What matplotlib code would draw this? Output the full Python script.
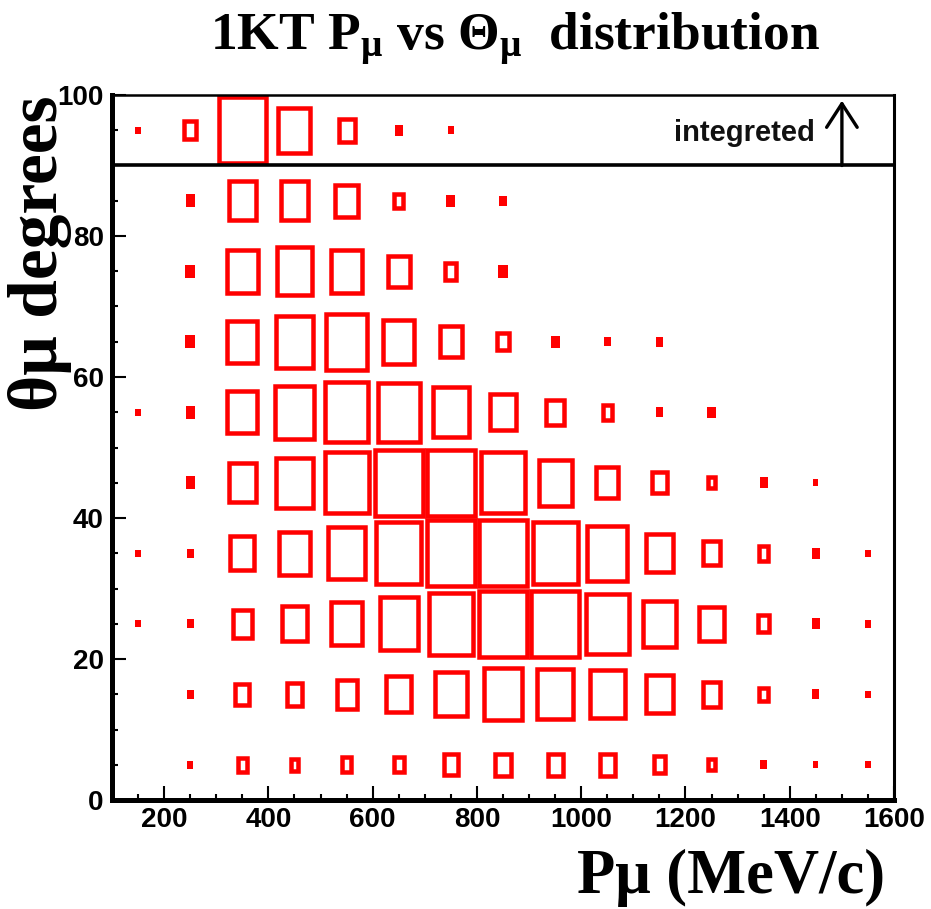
import numpy as np
import matplotlib
matplotlib.use("Agg")
import matplotlib.pyplot as plt
from matplotlib.patches import Rectangle

# bins: P mu from 100 to 1600 (step 100), theta mu from 0 to 100 (step 10)
p_centers = [150, 250, 350, 450, 550, 650, 750, 850, 950, 1050, 1150, 1250, 1350, 1450, 1550]
theta_centers = [5, 15, 25, 35, 45, 55, 65, 75, 85, 95]

# relative bin content (percent of the largest bin), one list per theta bin
row_5 = [0, 12, 26, 23, 27, 28, 36, 38, 37, 38, 31, 22, 13, 10, 10]
row_15 = [0, 13, 36, 39, 47, 57, 69, 80, 77, 75, 60, 42, 25, 14, 10]
row_25 = [10, 13, 46, 56, 67, 82, 94, 100, 100, 92, 72, 55, 30, 16, 12]
row_35 = [10, 13, 55, 68, 80, 95, 100, 100, 95, 85, 60, 41, 27, 15, 10]
row_45 = [0, 18, 61, 78, 93, 100, 100, 93, 72, 51, 36, 22, 15, 10, 0]
row_55 = [10, 18, 66, 82, 91, 90, 78, 58, 42, 27, 14, 16, 0, 0, 0]
row_65 = [0, 19, 66, 80, 86, 69, 50, 31, 17, 13, 14, 0, 0, 0, 0]
row_75 = [0, 19, 68, 74, 68, 50, 30, 19, 0, 0, 0, 0, 0, 0, 0]
row_85 = [0, 18, 61, 62, 52, 26, 17, 14, 0, 0, 0, 0, 0, 0, 0]
row_integrated = [10, 32, 100, 70, 39, 16, 11, 0, 0, 0, 0, 0, 0, 0, 0]

content = np.array([row_5, row_15, row_25, row_35, row_45, row_55,
                    row_65, row_75, row_85, row_integrated])

x_ticks = [200, 400, 600, 800, 1000, 1200, 1400, 1600]
y_ticks = [0, 20, 40, 60, 80, 100]

plt.rcParams['mathtext.fontset'] = 'custom'
plt.rcParams['mathtext.rm'] = 'Liberation Serif:bold'
plt.rcParams['mathtext.it'] = 'Liberation Serif:bold'
plt.rcParams['mathtext.bf'] = 'Liberation Serif:bold'

fig = plt.figure(figsize=(9.31, 9.09), dpi=100)
ax = fig.add_axes([0.1203, 0.1199, 0.840, 0.7756])
ax.set_xlim(100, 1600)
ax.set_ylim(0, 100)

# box outline width, and how much of it to take off so the outer edge matches
lw_px = 4.5
px_x = ax.bbox.width / 1500.0
px_y = ax.bbox.height / 100.0
bin_w = 100
bin_h = 10

for i, th in enumerate(theta_centers):
    for j, p in enumerate(p_centers):
        c = content[i, j]
        if c <= 0:
            continue
        ow = c / 100.0 * bin_w
        oh = c / 100.0 * bin_h
        if ow * px_x < 2.4 * lw_px:
            # tiny box: the outline fills it completely
            ax.add_patch(Rectangle((p - ow / 2, th - oh / 2), ow, oh,
                                   facecolor='#ff0000', edgecolor='none'))
            continue
        w = ow - lw_px / px_x
        h = oh - lw_px / px_y
        ax.add_patch(Rectangle((p - w / 2, th - h / 2), w, h, fill=False,
                               edgecolor='#ff0000', linewidth=lw_px * 0.72,
                               joinstyle='miter'))

# integrated row separator and arrow
ax.axhline(90, color='black', lw=2.6)
ax.annotate('', xy=(1500, 99.2), xytext=(1500, 90),
            arrowprops=dict(arrowstyle='->,head_length=0.85,head_width=0.55',
                            lw=2.4, color='black', shrinkA=0, shrinkB=0,
                            mutation_scale=20))
ax.text(1448, 94.6, 'integreted', ha='right', va='center',
        family='Liberation Sans', weight='bold', fontsize=21, color='#111111')

ax.set_xticks(x_ticks)
ax.set_yticks(y_ticks)
ax.set_xticks(np.arange(150, 1600, 50), minor=True)
ax.set_yticks(np.arange(5, 100, 5), minor=True)
ax.tick_params(which='major', direction='in', length=10, width=1.5,
               top=False, right=False, labelsize=20)
ax.tick_params(which='minor', direction='in', length=4.5, width=1.5,
               top=False, right=False)
ax.tick_params(axis='y', pad=6)
ax.tick_params(axis='x', pad=5)
for lab in ax.get_xticklabels() + ax.get_yticklabels():
    lab.set_family('Liberation Sans')
    lab.set_weight('bold')

ax.spines['left'].set_linewidth(3.6)
ax.spines['bottom'].set_linewidth(3.6)
ax.spines['top'].set_linewidth(1.8)
ax.spines['right'].set_linewidth(2.2)

fig.text(0.553, 0.945, r'1KT P$_{\mu}$ vs $\Theta_{\mu}$  distribution',
         ha='center', va='baseline', family='Liberation Serif',
         weight='bold', fontsize=38.5)
fig.text(0.951, 0.0176, 'P\u03bc (MeV/c)', ha='right', va='baseline',
         family='Liberation Serif', weight='bold', fontsize=45)
fig.text(0.043, 0.722, '\u03b8\u03bc degrees', rotation=90, ha='center',
         va='center', family='Liberation Serif', weight='bold', fontsize=50)

fig.savefig('out.png', dpi=100, facecolor='white')
